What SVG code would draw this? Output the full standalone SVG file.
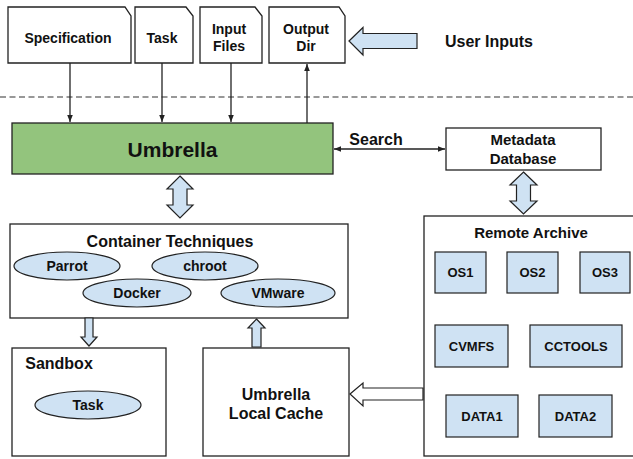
<svg xmlns="http://www.w3.org/2000/svg" width="633" height="459" viewBox="0 0 633 459">
<defs>
<marker id="ah" viewBox="0 0 10 10" refX="10" refY="5" markerWidth="7" markerHeight="7" markerUnits="userSpaceOnUse" orient="auto-start-reverse"><path d="M0,1 L10,5 L0,9 Z" fill="#222"/></marker>
</defs>
<style>
text{font-family:"Liberation Sans",Arial,sans-serif;font-weight:bold;fill:#111;text-anchor:middle}
.box{fill:#fff;stroke:#222;stroke-width:1.3}
.blue{fill:#cfe2f3;stroke:#222;stroke-width:1.2}
.line{stroke:#222;stroke-width:1.3;fill:none}
.barrow{fill:#cfe2f3;stroke:#222;stroke-width:1.2}
.warrow{fill:#fff;stroke:#222;stroke-width:1.2}
</style>
<rect width="633" height="459" fill="#fff"/>

<g id="specification">
<path class="box" d="M8,7 H125 L131,16 V63 H8 Z"/>
<text x="68" y="43" font-size="14">Specification</text>
</g>
<g id="task-input">
<path class="box" d="M135,7 H186 L193,16 V63 H135 Z"/>
<text x="162" y="43" font-size="14">Task</text>
</g>
<g id="input-files">
<path class="box" d="M200,7 H255 L262,16 V63 H200 Z"/>
<text x="229" y="34" font-size="14">Input</text>
<text x="229" y="51" font-size="14">Files</text>
</g>
<g id="output-dir">
<path class="box" d="M269,7 H339 L345,16 V63 H269 Z"/>
<text x="306" y="34" font-size="14">Output</text>
<text x="306" y="51" font-size="14">Dir</text>
</g>
<g id="user-inputs">
<path class="barrow" d="M349,41 L363,27.5 V33.5 H417 V48.5 H363 V55 Z"/>
<text x="489" y="47" font-size="16">User Inputs</text>
</g>

<line x1="0" y1="97" x2="633" y2="97" stroke="#333" stroke-width="1.2" stroke-dasharray="6 3.5"/>

<g id="umbrella">
<rect x="12" y="123" width="321" height="51" fill="#93c47d" stroke="#222" stroke-width="1.3"/>
<text x="172.5" y="157" font-size="21">Umbrella</text>
</g>
<g id="metadata-database">
<rect class="box" x="446" y="128" width="155" height="42"/>
<text x="523" y="145" font-size="15">Metadata</text>
<text x="523" y="164" font-size="15">Database</text>
</g>

<g id="container-techniques">
<rect class="box" x="10" y="224" width="338" height="94"/>
<text x="170" y="247" font-size="16">Container Techniques</text>
<ellipse class="blue" cx="67" cy="266" rx="53" ry="14"/>
<text x="67" y="271" font-size="14">Parrot</text>
<ellipse class="blue" cx="205" cy="266" rx="53" ry="14"/>
<text x="205" y="271" font-size="14">chroot</text>
<ellipse class="blue" cx="137" cy="293" rx="54" ry="14"/>
<text x="137" y="298" font-size="14">Docker</text>
<ellipse class="blue" cx="278" cy="293" rx="57" ry="14"/>
<text x="278" y="298" font-size="14">VMware</text>
</g>

<g id="sandbox">
<rect class="box" x="12" y="348" width="154" height="108"/>
<text x="59" y="369" font-size="16">Sandbox</text>
<ellipse class="blue" cx="88" cy="405" rx="53" ry="14"/>
<text x="88" y="410" font-size="14">Task</text>
</g>

<g id="local-cache">
<rect class="box" x="203" y="348" width="146" height="108"/>
<text x="276" y="400" font-size="16">Umbrella</text>
<text x="276" y="419" font-size="16">Local Cache</text>
</g>

<g id="remote-archive">
<rect class="box" x="424" y="216" width="215" height="240"/>
<text x="531" y="238" font-size="15">Remote Archive</text>
<rect class="blue" x="435" y="252" width="51" height="41"/>
<text x="460.5" y="277" font-size="13">OS1</text>
<rect class="blue" x="507" y="252" width="51" height="41"/>
<text x="532.5" y="277" font-size="13">OS2</text>
<rect class="blue" x="580" y="252" width="50" height="41"/>
<text x="605" y="277" font-size="13">OS3</text>
<rect class="blue" x="435" y="325" width="73" height="42"/>
<text x="471.5" y="351" font-size="13">CVMFS</text>
<rect class="blue" x="530" y="325" width="92" height="42"/>
<text x="576" y="351" font-size="13">CCTOOLS</text>
<rect class="blue" x="446" y="395" width="72" height="42"/>
<text x="482" y="421" font-size="13">DATA1</text>
<rect class="blue" x="539" y="395" width="73" height="42"/>
<text x="575.5" y="421" font-size="13">DATA2</text>
</g>

<g id="connectors">
<line class="line" x1="70" y1="63" x2="70" y2="122" marker-end="url(#ah)"/>
<line class="line" x1="162" y1="63" x2="162" y2="122" marker-end="url(#ah)"/>
<line class="line" x1="231" y1="63" x2="231" y2="122" marker-end="url(#ah)"/>
<line class="line" x1="307" y1="123" x2="307" y2="64" marker-end="url(#ah)"/>
<line class="line" x1="334" y1="149" x2="445" y2="149" marker-start="url(#ah)" marker-end="url(#ah)"/>
<text x="376" y="145" font-size="16">Search</text>
<path class="barrow" d="M180,176 L193,189 H187 V205 H193 L180,218 L167,205 H173 V189 H167 Z"/>
<path class="barrow" d="M523.5,172 L537,185 H530.5 V201 H537 L523.5,214 L510,201 H516.5 V185 H510 Z"/>
<path class="barrow" d="M85,318 H93 V337 H97 L89,346 L81,337 H85 Z"/>
<path class="barrow" d="M256.5,319 L265,328 H261 V347 H252 V328 H248 Z"/>
<path class="warrow" d="M350,394 L363,383 V388 H423 V400 H363 V406 Z"/>
</g>
</svg>
